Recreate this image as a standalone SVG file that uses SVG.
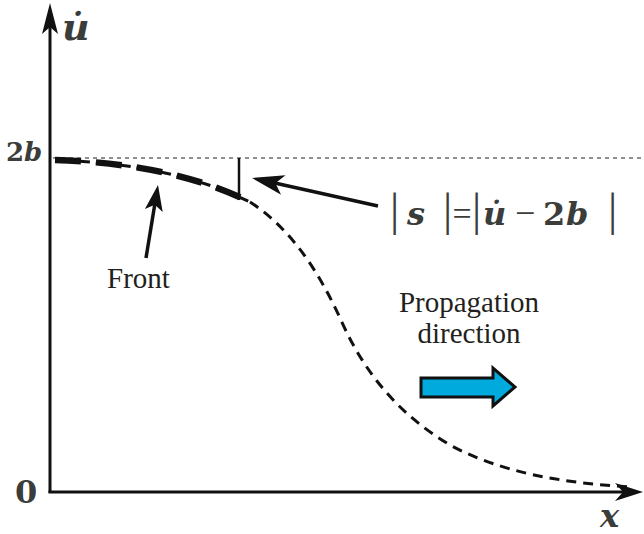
<svg xmlns="http://www.w3.org/2000/svg" width="644" height="534" viewBox="0 0 644 534">
<style>
.ax{stroke:#111;stroke-width:3;fill:none}
.ah{fill:#111;stroke:none}
.ptr{stroke:#111;stroke-width:3.5;fill:none}
.lbl{font-family:"Liberation Serif","Times New Roman",serif;fill:#231f20}
.m{font-family:"DejaVu Serif",serif;fill:#3b3d3a;font-weight:bold}
.bi{font-style:italic;font-weight:bold}
.bar{font-family:"Liberation Serif",serif;font-weight:normal;font-style:normal;font-size:46px}
.rm{font-family:"Liberation Serif",serif;font-weight:normal;font-style:normal}
</style>
<rect width="644" height="534" fill="#fff"/>
<g id="axes">
<line class="ax" x1="50" y1="25" x2="50" y2="493"/>
<polygon class="ah" points="50,3 58,34 50,27 42,34"/>
<line class="ax" x1="48.5" y1="492" x2="628" y2="492"/>
<polygon class="ah" points="643,492 615,483 623,492 615,501"/>
<text class="m bi" x="62" y="40" font-size="38">u&#775;</text>
<text class="m" x="15" y="503" font-size="32">0</text>
<text class="m bi" x="600" y="527" font-size="32">x</text>
<text class="m" x="6" y="161" font-size="26">2<tspan class="bi">b</tspan></text>
</g>
<g id="reference-level">
<line x1="53" y1="158" x2="644" y2="158" stroke="#222" stroke-width="1.2" stroke-dasharray="4 4"/>
<line x1="239" y1="158" x2="239" y2="200" stroke="#111" stroke-width="2.5"/>
</g>
<g id="curve">
<path d="M250,202 C290,228 318,270 340,318 C365,375 400,415 450,445 C500,472 560,483 632,487" fill="none" stroke="#111" stroke-width="3" stroke-dasharray="10 7"/>
<path d="M55,160 C120,162 190,172 252,203" fill="none" stroke="#111" stroke-width="3" stroke-dasharray="35 6"/>
<path d="M55,160 C120,162 190,172 252,203" fill="none" stroke="#111" stroke-width="6.5" stroke-dasharray="26 15"/>
</g>
<g id="connectors">
<line class="ptr" x1="146" y1="258" x2="155.5" y2="200"/>
<polygon class="ah" points="158,185 162.7,212.1 154.8,204.7 144.9,209.1"/>
<line class="ptr" x1="378" y1="206" x2="268" y2="181.5"/>
<polygon class="ah" points="252,178 285.5,175.2 275.4,183.2 281.1,194.7"/>
</g>
<g id="front-label">
<text class="lbl" x="107" y="288" font-size="29">Front</text>
</g>
<g id="formula">
<text class="m" y="225" font-size="32"><tspan class="bar" x="390">|</tspan><tspan class="bi" x="407">s</tspan><tspan class="bar" x="443">|</tspan><tspan class="rm" x="452.5" font-size="34">=</tspan><tspan class="bar" x="472">|</tspan><tspan class="bi" x="483">u&#775;</tspan><tspan class="rm" x="515" font-size="36">−</tspan><tspan x="543">2</tspan><tspan class="bi" x="566">b</tspan><tspan class="bar" x="608">|</tspan></text>
</g>
<g id="propagation">
<text class="lbl" x="469" y="312" font-size="29" text-anchor="middle">Propagation</text>
<text class="lbl" x="469" y="343" font-size="29" text-anchor="middle">direction</text>
<polygon points="421,378 493,378 493,368 515,387 493,406 493,397 421,397" fill="#00aadd" stroke="#111" stroke-width="3" stroke-linejoin="miter"/>
</g>
</svg>
